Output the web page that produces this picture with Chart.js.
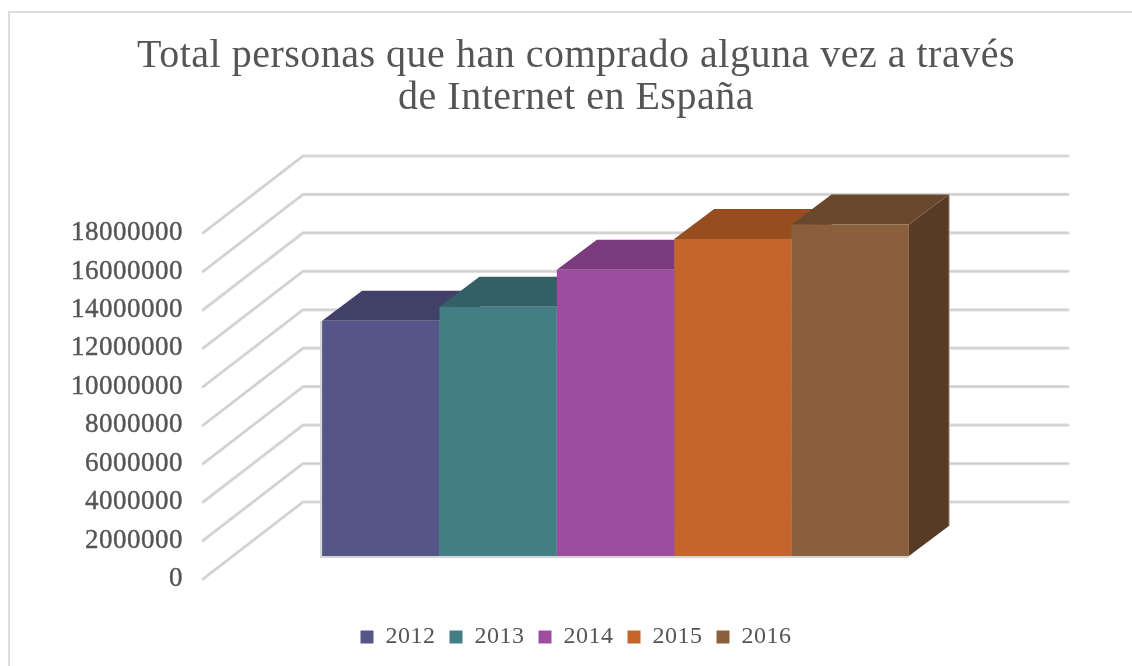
<!DOCTYPE html>
<html><head><meta charset="utf-8">
<script src="https://cdn.jsdelivr.net/npm/chart.js@4"></script>
<style>html,body{margin:0;padding:0;background:#fff}canvas{display:block}</style>
</head><body><div style="width:1132px;height:666px"><canvas id="c"></canvas></div>
<script>
const titleLines = ['Total personas que han comprado alguna vez a través', 'de Internet en España'];
const categories = ['Total'];
const years = ['2012', '2013', '2014', '2015', '2016'];
const values = [12240000, 12970000, 14890000, 16490000, 17250000];
const frontColors = ['#555587', '#437E84', '#9E4CA0', '#C4652B', '#8A5F3B'];
const topColors = ['#404069', '#336064', '#7A3A7C', '#964D20', '#69482D'];
const sideColors = ['#333355', '#294E52', '#5E2D60', '#6F3A18', '#583B25'];
const axisMax = 18000000, axisStep = 2000000;

const WALL = {dx: 100, dy: -77};     // front plane to back wall
const BAR_SHIFT = {dx: 30, dy: -23}; // front of bars inside the floor depth
const BAR_DEPTH = {dx: 40, dy: -30};

const depth3d = {
  id: 'depth3d',
  beforeUpdate(chart) { chart.ctx.letterSpacing = '0.5px'; },
  beforeDraw(chart) {
    const {ctx, height} = chart;
    ctx.letterSpacing = '0.5px';
    ctx.save();
    ctx.strokeStyle = '#dddddd';
    ctx.lineWidth = 2;
    ctx.beginPath();
    ctx.moveTo(9, height);
    ctx.lineTo(9, 12);
    ctx.lineTo(1132, 12);
    ctx.stroke();
    ctx.restore();
  },
  beforeDatasetsDraw(chart) {
    const {ctx, chartArea: a, scales: {y}} = chart;
    ctx.save();
    ctx.lineCap = 'round';
    ctx.lineJoin = 'round';
    for (const pass of [{w: 3.2, c: '#dedede'}, {w: 1.2, c: '#cdcdcd'}]) {
      ctx.lineWidth = pass.w;
      ctx.strokeStyle = pass.c;
      y.ticks.forEach(t => {
        const py = y.getPixelForValue(t.value);
        ctx.beginPath();
        ctx.moveTo(a.left, py);
        ctx.lineTo(a.left + WALL.dx, py + WALL.dy);
        ctx.lineTo(a.right + WALL.dx, py + WALL.dy);
        ctx.stroke();
      });
    }
    ctx.restore();

    ctx.save();
    ctx.translate(BAR_SHIFT.dx, BAR_SHIFT.dy);
    years.forEach((_, i) => {
      const b = chart.getDatasetMeta(i).data[0];
      const l = b.x - b.width / 2, r = b.x + b.width / 2;
      ctx.fillStyle = sideColors[i];
      ctx.beginPath();
      ctx.moveTo(r, b.y);
      ctx.lineTo(r + BAR_DEPTH.dx, b.y + BAR_DEPTH.dy);
      ctx.lineTo(r + BAR_DEPTH.dx, b.base + BAR_DEPTH.dy);
      ctx.lineTo(r, b.base);
      ctx.closePath();
      ctx.fill();
      if (i === years.length - 1) {
        ctx.strokeStyle = '#b5b0aa';
        ctx.lineWidth = 1;
        ctx.beginPath();
        ctx.moveTo(r + BAR_DEPTH.dx + 0.5, b.y + BAR_DEPTH.dy);
        ctx.lineTo(r + BAR_DEPTH.dx + 0.5, b.base + BAR_DEPTH.dy);
        ctx.stroke();
      }
      ctx.fillStyle = topColors[i];
      ctx.beginPath();
      ctx.moveTo(l, b.y);
      ctx.lineTo(l + BAR_DEPTH.dx, b.y + BAR_DEPTH.dy);
      ctx.lineTo(r + BAR_DEPTH.dx, b.y + BAR_DEPTH.dy);
      ctx.lineTo(r, b.y);
      ctx.closePath();
      ctx.fill();
    });
    const first = chart.getDatasetMeta(0).data[0], last = chart.getDatasetMeta(years.length - 1).data[0];
    ctx.strokeStyle = '#d4d4d4';
    ctx.lineWidth = 2;
    ctx.beginPath();
    ctx.moveTo(first.x - first.width / 2 - 1, first.y);
    ctx.lineTo(first.x - first.width / 2 - 1, first.base + 1);
    ctx.lineTo(last.x + last.width / 2, first.base + 1);
    ctx.stroke();
    // bars themselves are drawn by the library inside this translation
  },
  afterDatasetsDraw(chart) {
    chart.ctx.restore();
  }
};

new Chart(document.getElementById('c'), {
  type: 'bar',
  data: {
    labels: categories,
    datasets: years.map((yr, i) => ({
      label: yr,
      data: [values[i]],
      backgroundColor: frontColors[i],
      borderWidth: 0
    }))
  },
  options: {
    responsive: true,
    maintainAspectRatio: false,
    animation: false,
    events: [],
    datasets: {bar: {barPercentage: 1, categoryPercentage: 0.767}},
    layout: {padding: {left: 20, right: 0, top: 0, bottom: 7}},
    scales: {
      x: {
        grid: {display: false},
        border: {display: false},
        ticks: {display: false},
        afterFit(s) { s.height = 32; }
      },
      y: {
        min: 0,
        max: axisMax,
        grid: {display: false},
        border: {display: false},
        afterFit(s) { s.width = 183; },
        ticks: {
          stepSize: axisStep,
          padding: 12,
          color: '#555555',
          textStrokeColor: '#555555',
          textStrokeWidth: 0.4,
          font: {family: '"Liberation Serif"', size: 27},
          callback: v => String(v)
        }
      },
      rightGap: {
        position: 'right',
        display: true,
        min: 0,
        max: 1,
        grid: {display: false},
        border: {display: false},
        ticks: {display: false},
        afterFit(s) { s.width = 164; }
      }
    },
    plugins: {
      tooltip: {enabled: false},
      title: {
        display: true,
        text: titleLines,
        color: '#555555',
        font: {family: '"Liberation Serif"', size: 40, weight: 'normal', lineHeight: 42 / 40},
        padding: {top: 35, bottom: 114}
      },
      legend: {
        position: 'bottom',
        labels: {
          boxWidth: 13,
          boxHeight: 13,
          padding: 14,
          color: '#555555',
          font: {family: '"Liberation Serif"', size: 24}
        }
      }
    }
  },
  plugins: [depth3d]
});
</script></body></html>
